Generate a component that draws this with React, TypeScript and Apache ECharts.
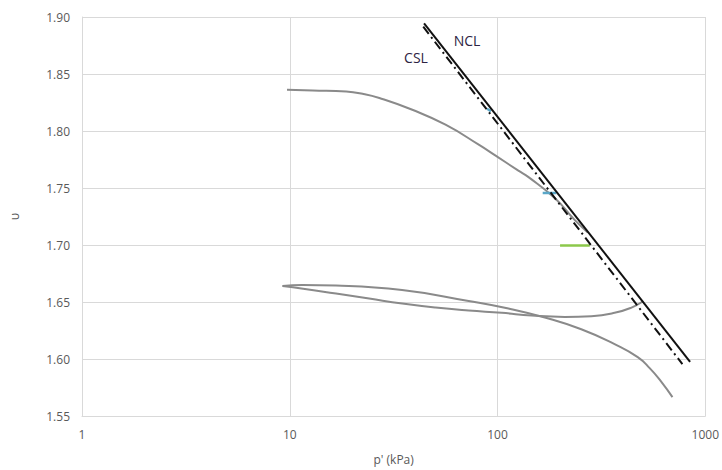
import React, { useEffect, useRef } from "react";
import * as echarts from "echarts";

// p' (kPa), specific volume v
const xTicks = [1, 10, 100, 1000];
const yTicks = [1.55, 1.6, 1.65, 1.7, 1.75, 1.8, 1.85, 1.9];

const upperPath: [number, number][] = [
  [9.7, 1.8361], [12.9, 1.8355], [18.7, 1.8346], [22.4, 1.8326], [27, 1.8289],
  [38.9, 1.8186], [56.2, 1.8055], [81.2, 1.788], [97.5, 1.7786], [126, 1.7652],
  [141, 1.7595], [189, 1.741], [235, 1.722], [272, 1.711],
];
const loopA: [number, number][] = [
  [9.23, 1.664], [11.5, 1.6649], [16.7, 1.6644], [34.7, 1.6605], [72.6, 1.6509],
  [112.9, 1.6443], [169, 1.6364], [253, 1.6261], [366, 1.613], [473, 1.6016],
  [540, 1.592], [616, 1.5798], [695, 1.5666],
];
const loopB: [number, number][] = [
  [9.23, 1.664], [11.6, 1.6617], [16.7, 1.6574], [24.1, 1.653], [34.8, 1.6486],
  [50.3, 1.6451], [72.6, 1.6425], [104.8, 1.6405], [146, 1.6381], [211, 1.6369],
  [283, 1.6376], [366, 1.6405], [439, 1.6449], [500, 1.6504],
];
const nclLine: [number, number][] = [[44.3, 1.8945], [845, 1.5975]];
const cslLine: [number, number][] = [[43.9, 1.8915], [776, 1.5955]];
const cyanMark1: [number, number][] = [[89, 1.8195], [93, 1.8175]];
const cyanMark2: [number, number][] = [[165, 1.7457], [192, 1.7457]];
const greenMark: [number, number][] = [[200, 1.6996], [278, 1.6996]];

const labels = [
  { text: "NCL", x: 467, y: 40 },
  { text: "CSL", x: 416, y: 57 },
];

export default function App() {
  const ref = useRef<HTMLDivElement>(null);
  useEffect(() => {
    if (!ref.current) return;
    const chart = echarts.init(ref.current, null, { renderer: "svg" });
    const gray = "#8a8a8a";
    const font = "'Open Sans', 'Liberation Sans', sans-serif";
    const curve = (data: [number, number][]) => ({
      type: "line",
      data,
      smooth: 0.5,
      symbol: "none",
      lineStyle: { color: gray, width: 2 },
    });
    chart.setOption({
      animation: false,
      backgroundColor: "#ffffff",
      textStyle: { fontFamily: font },
      grid: { left: 81, right: 14, top: 17, bottom: 53 },
      xAxis: {
        type: "log",
        logBase: 10,
        min: xTicks[0],
        max: xTicks[xTicks.length - 1],
        name: "p' (kPa)",
        nameLocation: "middle",
        nameGap: 37,
        nameTextStyle: { color: "#595959", fontSize: 12, fontFamily: font },
        axisLine: { show: true, lineStyle: { color: "#d9d9d9", width: 1 } },
        axisTick: { show: false },
        axisLabel: {
          color: "#595959",
          fontSize: 12,
          margin: 12,
          fontFamily: font,
          formatter: (v: number) => String(Math.round(v)),
        },
        splitLine: { show: true, lineStyle: { color: "#d9d9d9", width: 1 } },
        minorTick: { show: false },
        minorSplitLine: { show: false },
      },
      yAxis: {
        type: "value",
        min: yTicks[0],
        max: yTicks[yTicks.length - 1],
        interval: 0.05,
        name: "υ",
        nameLocation: "middle",
        nameGap: 62,
        nameRotate: 90,
        nameTextStyle: { color: "#595959", fontSize: 12, fontFamily: font },
        axisLine: { show: true, lineStyle: { color: "#d9d9d9", width: 1 } },
        axisTick: { show: false },
        axisLabel: {
          color: "#595959",
          fontSize: 12,
          margin: 12,
          fontFamily: font,
          formatter: (v: number) => v.toFixed(2),
        },
        splitLine: { show: true, lineStyle: { color: "#d9d9d9", width: 1 } },
      },
      series: [
        curve(upperPath),
        curve(loopA),
        curve(loopB),
        {
          type: "line", data: cyanMark1, symbol: "none",
          lineStyle: { color: "#5aa7c8", width: 2.5 },
        },
        {
          type: "line", data: cyanMark2, symbol: "none",
          lineStyle: { color: "#5aa7c8", width: 2.5 },
        },
        {
          type: "line", data: greenMark, symbol: "none",
          lineStyle: { color: "#8cc84b", width: 2.5 },
        },
        {
          type: "line", data: cslLine, symbol: "none",
          lineStyle: { color: "#111111", width: 2, type: [9, 4, 2, 4] },
        },
        {
          type: "line", data: nclLine, symbol: "none",
          lineStyle: { color: "#111111", width: 2 },
        },
      ],
      graphic: labels.map((l) => ({
        type: "text",
        x: l.x,
        y: l.y,
        style: {
          text: l.text,
          fill: "#2d2342",
          font: `14px ${font}`,
          textAlign: "center",
          textVerticalAlign: "middle",
        },
      })),
    });
    return () => chart.dispose();
  }, []);
  return (
    <div
      ref={ref}
      style={{ position: "absolute", left: 0, top: 0, width: 722, height: 470 }}
    />
  );
}
